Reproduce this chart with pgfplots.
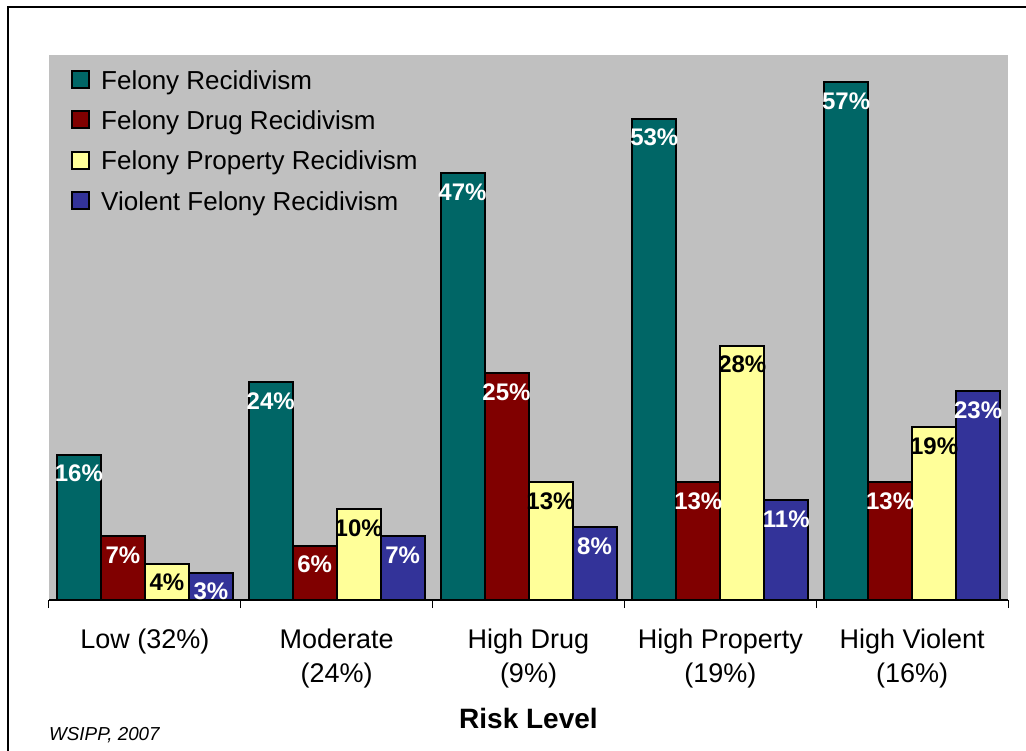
\documentclass[border=0pt]{standalone}
\usepackage{pgfplots}
\pgfplotsset{compat=1.18}
\usepackage{fontspec}
\setmainfont{Liberation Sans}
\definecolor{cteal}{HTML}{006666}
\definecolor{cred}{HTML}{800000}
\definecolor{cyel}{HTML}{FFFF99}
\definecolor{cblue}{HTML}{333399}
\definecolor{cgray}{HTML}{C0C0C0}
\pgfplotsset{sqlegend/.style={legend image code/.code={\draw[##1,draw=black,line width=2pt] (0pt,-7.5pt) rectangle (17pt,9.5pt);}}}
\begin{document}
\begin{tikzpicture}[x=1pt,y=1pt]
\useasboundingbox (0,0) rectangle (1026,-751);
\draw[line width=2pt] (7.5,-753) -- (7.5,-7.5) -- (1028,-7.5);
\begin{axis}[
  at={(49pt,-600pt)}, anchor=south west,
  scale only axis, width=959pt, height=545pt,
  ybar=0pt, bar width=44pt,
  xmin=-0.5, xmax=4.5, ymin=0, ymax=60,
  axis background/.style={fill=cgray},
  axis x line*=bottom, axis y line=none,
  x axis line style={-, line width=1.5pt},
  xtick={0,...,4},
  xticklabels={Low (32\%), {Moderate\\(24\%)}, {High Drug\\(9\%)}, {High Property\\(19\%)}, {High Violent\\(16\%)}},
  xticklabel style={align=center, font=\fontsize{27}{34}\selectfont, anchor=north, yshift=-25pt},
  major tick length=0pt,
  minor xtick={-0.5,0.5,...,4.5},
  minor tick length=8pt,
  xtick align=outside,
  minor tick style={black, line width=1pt},
  xlabel={Risk Level},
  xlabel style={at={(axis description cs:0.5,0)}, anchor=center, yshift=-118pt, font=\fontsize{28}{32}\selectfont\bfseries},
  nodes near coords={\pgfmathprintnumber[assume math mode=true]{\pgfplotspointmeta}\%},
  every node near coord/.append style={anchor=center, yshift=-19pt, font=\fontsize{24}{28}\selectfont\bfseries, inner sep=0pt},
  legend style={draw=none, fill=none, at={(0,1)}, anchor=north west, xshift=19pt, yshift=-11pt, font=\fontsize{26}{30}\selectfont, row sep=16pt, cells={anchor=west}, /tikz/every odd column/.append style={column sep=9pt}},
]
\addplot[fill=cteal, draw=black, line width=2pt, sqlegend, every node near coord/.append style={white}] coordinates {(0,16) (1,24) (2,47) (3,53) (4,57)};
\addplot[fill=cred, draw=black, line width=2pt, sqlegend, every node near coord/.append style={white}] coordinates {(0,7) (1,6) (2,25) (3,13) (4,13)};
\addplot[fill=cyel, draw=black, line width=2pt, sqlegend, every node near coord/.append style={black}] coordinates {(0,4) (1,10) (2,13) (3,28) (4,19)};
\addplot[fill=cblue, draw=black, line width=2pt, sqlegend, every node near coord/.append style={white}] coordinates {(0,3) (1,7) (2,8) (3,11) (4,23)};
\legend{Felony Recidivism, Felony Drug Recidivism, Felony Property Recidivism, Violent Felony Recidivism}
\end{axis}
\node[anchor=west, inner sep=0pt, font=\fontsize{18.8}{22}\selectfont\itshape] at (49,-735) {WSIPP, 2007};
\end{tikzpicture}
\end{document}
